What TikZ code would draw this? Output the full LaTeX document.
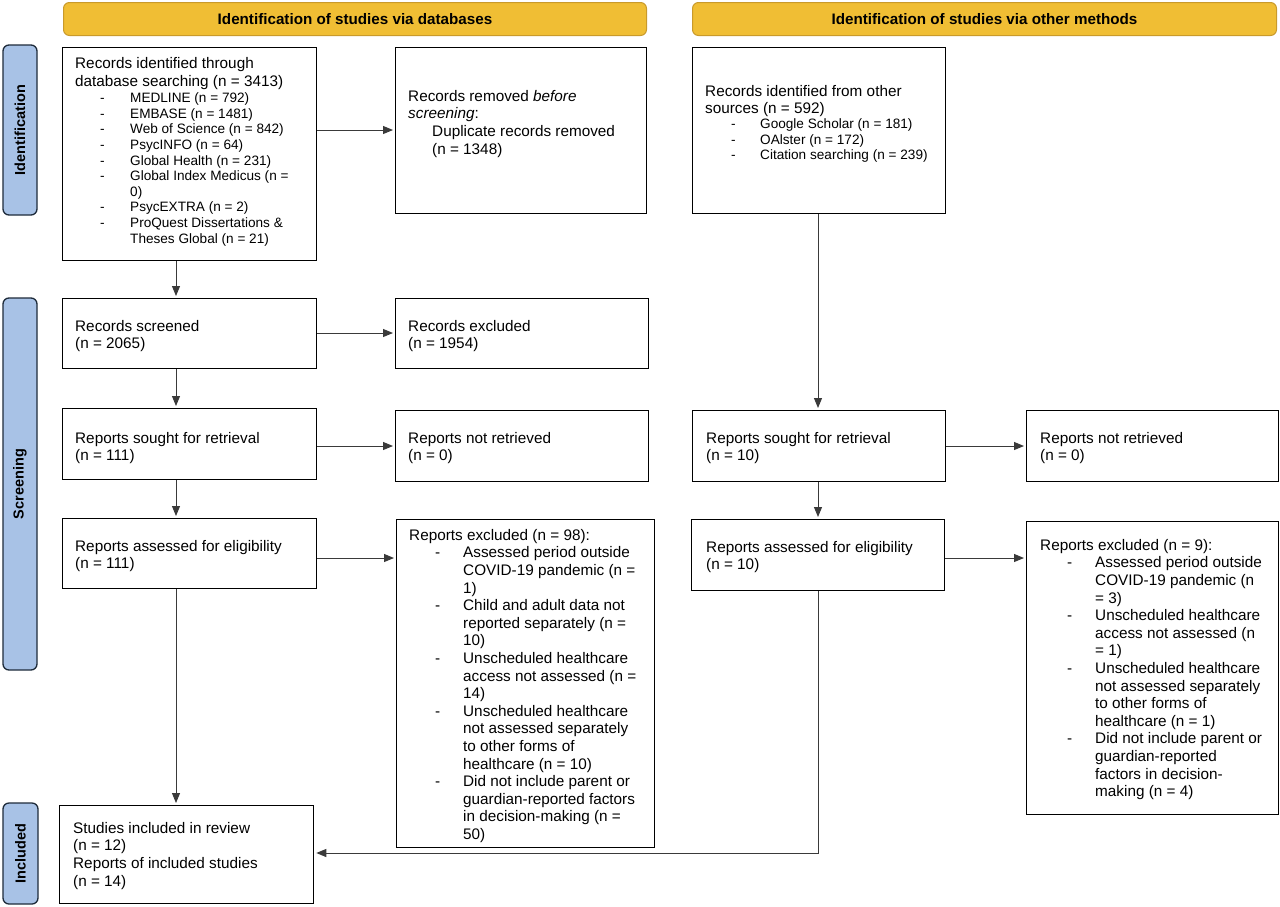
\documentclass[tikz,border=0pt]{standalone}
\usepackage{fontspec}
\setmainfont{Liberation Sans}
\usetikzlibrary{arrows.meta,calc}
\definecolor{gold}{HTML}{F0BE34}
\definecolor{goldline}{HTML}{C99A2B}
\definecolor{sideblue}{HTML}{A8C2E6}
\definecolor{sideline}{HTML}{1E2B3A}
\definecolor{arrgray}{HTML}{3A3A3A}
\newcommand\pdash[2]{\makebox[#1][l]{-}#2}
\begin{document}
\begin{tikzpicture}[x=1pt,y=-1pt,
  box/.style={draw=black, line width=1.3pt, rectangle, inner sep=0pt, anchor=north west},
  hdr/.style={draw=goldline, fill=gold, line width=1pt, rounded corners=6pt, inner sep=0pt, anchor=north west, font=\fontsize{15.2}{18}\selectfont\bfseries},
  sidelab/.style={draw=sideline, fill=sideblue, line width=1.3pt, rounded corners=6pt, inner sep=0pt, rotate=90, font=\fontsize{14.5}{17}\selectfont\bfseries},
  txt/.style={anchor=north west, inner sep=0pt, align=left, font=\fontsize{15.3}{17.6}\selectfont},
  sub/.style={anchor=north west, inner sep=0pt, align=left, font=\fontsize{13.6}{15.6}\selectfont},
  arr/.style={draw=arrgray, line width=1pt, -{Triangle[length=10pt,width=8pt]}, shorten >=2pt},
]
\useasboundingbox (0,0) rectangle (1280,906);
\fill[white] (0,0) rectangle (1280,906);

% headers
\node[hdr, minimum width=583pt, minimum height=33pt] (h1) at (63,2) {Identification of studies via databases};
\node[hdr, minimum width=584pt, minimum height=33pt] (h2) at (692,2) {Identification of studies via other methods};

% side labels
\node[sidelab, minimum width=170pt, minimum height=34pt] (s1) at (20,130) {Identification};
\node[sidelab, minimum width=372pt, minimum height=34pt] (s2) at (20,484) {Screening};
\node[sidelab, minimum width=101pt, minimum height=35pt] (s3) at (20.5,853.5) {Included};

% boxes left
\node[box, minimum width=254pt, minimum height=213pt] (id1) at (62,47) {};
\node[box, minimum width=251pt, minimum height=166pt] (rem) at (395,47) {};
\node[box, minimum width=254pt, minimum height=70pt] (scr) at (62,298) {};
\node[box, minimum width=253pt, minimum height=70pt] (exc) at (395,298) {};
\node[box, minimum width=254pt, minimum height=71pt] (sgt) at (62,408) {};
\node[box, minimum width=253pt, minimum height=71pt] (nrt) at (395,410) {};
\node[box, minimum width=254pt, minimum height=70pt] (ass) at (62,518) {};
\node[box, minimum width=258pt, minimum height=328pt] (rex) at (396,519) {};
\node[box, minimum width=254pt, minimum height=98pt] (inc) at (59,805) {};
% boxes right
\node[box, minimum width=253pt, minimum height=166pt] (oth) at (692,47) {};
\node[box, minimum width=253pt, minimum height=71pt] (sgt2) at (692,410) {};
\node[box, minimum width=252pt, minimum height=71pt] (nrt2) at (1026,410) {};
\node[box, minimum width=253pt, minimum height=71pt] (ass2) at (691,519) {};
\node[box, minimum width=252pt, minimum height=293pt] (rex2) at (1026,521) {};

% texts
\node[txt, font=\fontsize{15.3}{18.4}\selectfont] (t1) at (75,57) {Records identified through\\database searching (n = 3413)};
\node[sub] (t1b) at (100,92.6) {\pdash{30pt}{MEDLINE (n = 792)}\\
\pdash{30pt}{EMBASE (n = 1481)}\\
\pdash{30pt}{Web of Science (n = 842)}\\
\pdash{30pt}{PsycINFO (n = 64)}\\
\pdash{30pt}{Global Health (n = 231)}\\
\pdash{30pt}{Global Index Medicus (n =}\\
\hspace*{30pt}0)\\
\pdash{30pt}{PsycEXTRA (n = 2)}\\
\pdash{30pt}{ProQuest Dissertations \&}\\
\hspace*{30pt}Theses Global (n = 21)};

\node[txt] (t2) at (408,90) {Records removed \textit{before}\\\textit{screening}:\\
\hspace*{24pt}Duplicate records removed\\\hspace*{24pt}(n = 1348)};

\node[txt] (t3) at (75,320) {Records screened\\(n = 2065)};
\node[txt] (t4) at (408,320) {Records excluded\\(n = 1954)};
\node[txt] (t5) at (75,432) {Reports sought for retrieval\\(n = 111)};
\node[txt] (t6) at (408,432) {Reports not retrieved\\(n = 0)};
\node[txt] (t7) at (75,540) {Reports assessed for eligibility\\(n = 111)};

\node[txt] (t8) at (409,529) {Reports excluded (n = 98):\\
\hspace*{26pt}\pdash{28pt}{Assessed period outside}\\
\hspace*{54pt}COVID-19 pandemic (n =\\
\hspace*{54pt}1)\\
\hspace*{26pt}\pdash{28pt}{Child and adult data not}\\
\hspace*{54pt}reported separately (n =\\
\hspace*{54pt}10)\\
\hspace*{26pt}\pdash{28pt}{Unscheduled healthcare}\\
\hspace*{54pt}access not assessed (n =\\
\hspace*{54pt}14)\\
\hspace*{26pt}\pdash{28pt}{Unscheduled healthcare}\\
\hspace*{54pt}not assessed separately\\
\hspace*{54pt}to other forms of\\
\hspace*{54pt}healthcare (n = 10)\\
\hspace*{26pt}\pdash{28pt}{Did not include parent or}\\
\hspace*{54pt}guardian-reported factors\\
\hspace*{54pt}in decision-making (n =\\
\hspace*{54pt}50)};

\node[txt] (t9) at (73,822) {Studies included in review\\(n = 12)\\Reports of included studies\\(n = 14)};

\node[txt, font=\fontsize{15.3}{17}\selectfont] (t10) at (705,85) {Records identified from other\\sources (n = 592)};
\node[sub] (t10b) at (731,118.6) {\pdash{29pt}{Google Scholar (n = 181)}\\
\pdash{29pt}{OAlster (n = 172)}\\
\pdash{29pt}{Citation searching (n = 239)}};

\node[txt] (t11) at (706,432) {Reports sought for retrieval\\(n = 10)};
\node[txt] (t12) at (1040,432) {Reports not retrieved\\(n = 0)};
\node[txt] (t13) at (706,541) {Reports assessed for eligibility\\(n = 10)};

\node[txt] (t14) at (1040,539) {Reports excluded (n = 9):\\
\hspace*{27pt}\pdash{28pt}{Assessed period outside}\\
\hspace*{55pt}COVID-19 pandemic (n\\
\hspace*{55pt}= 3)\\
\hspace*{27pt}\pdash{28pt}{Unscheduled healthcare}\\
\hspace*{55pt}access not assessed (n\\
\hspace*{55pt}= 1)\\
\hspace*{27pt}\pdash{28pt}{Unscheduled healthcare}\\
\hspace*{55pt}not assessed separately\\
\hspace*{55pt}to other forms of\\
\hspace*{55pt}healthcare (n = 1)\\
\hspace*{27pt}\pdash{28pt}{Did not include parent or}\\
\hspace*{55pt}guardian-reported\\
\hspace*{55pt}factors in decision-\\
\hspace*{55pt}making (n = 4)};

% connector guides
\coordinate (xa) at (176,0);
\coordinate (xb) at (818,0);
\coordinate (ya) at (0,130);
\coordinate (yb) at (0,333);
\coordinate (yc) at (0,446);
\coordinate (yd) at (0,558);
\coordinate (ye) at (0,853);

\draw[arr] (id1.south -| xa) -- (scr.north -| xa);
\draw[arr] (id1.east |- ya) -- (rem.west |- ya);
\draw[arr] (scr.south -| xa) -- (sgt.north -| xa);
\draw[arr] (scr.east |- yb) -- (exc.west |- yb);
\draw[arr] (sgt.south -| xa) -- (ass.north -| xa);
\draw[arr] (sgt.east |- yc) -- (nrt.west |- yc);
\draw[arr] (ass.east |- yd) -- (rex.west |- yd);
\draw[arr] (ass.south -| xa) -- (inc.north -| xa);
\draw[arr] (oth.south -| xb) -- (sgt2.north -| xb);
\draw[arr] (sgt2.east |- yc) -- (nrt2.west |- yc);
\draw[arr] (sgt2.south -| xb) -- (ass2.north -| xb);
\draw[arr] (ass2.east |- yd) -- (rex2.west |- yd);
\draw[arr] (ass2.south -| xb) |- (inc.east |- ye);
\end{tikzpicture}
\end{document}
